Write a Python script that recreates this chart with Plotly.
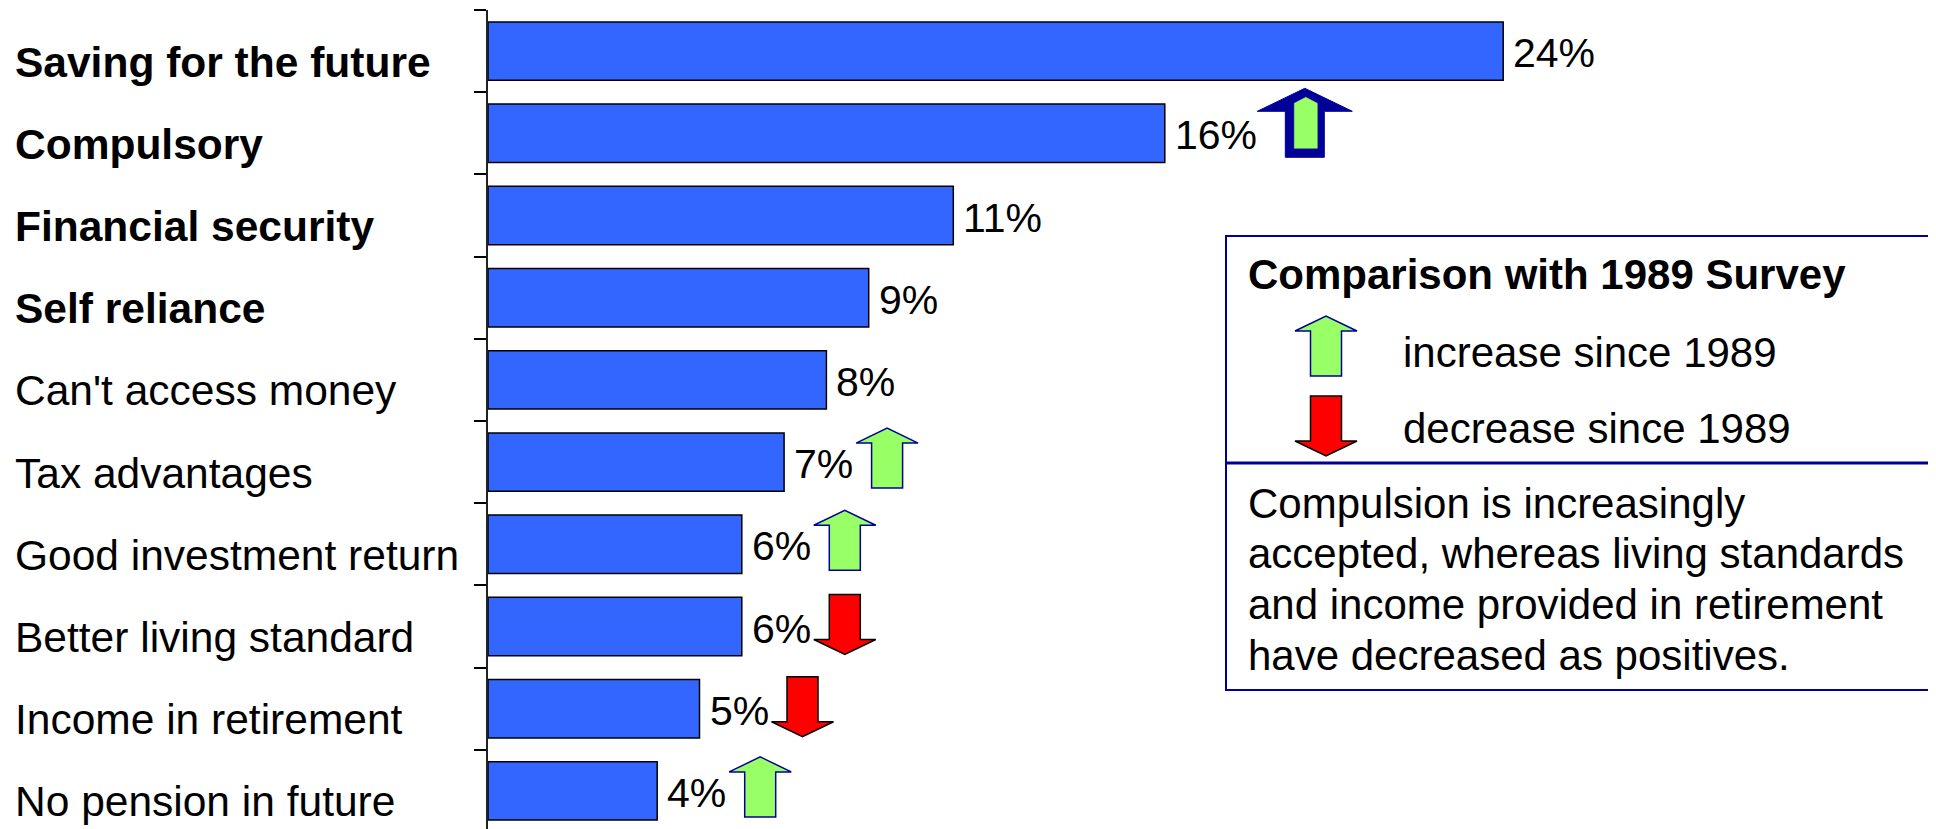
import plotly.graph_objects as go

# ---------------- data ----------------
categories = ["Saving for the future", "Compulsory", "Financial security", "Self reliance",
              "Can't access money", "Tax advantages", "Good investment return",
              "Better living standard", "Income in retirement", "No pension in future"]
percent = [24, 16, 11, 9, 8, 7, 6, 6, 5, 4]
bold_label = [True, True, True, True, False, False, False, False, False, False]
change_since_1989 = ["", "up", "", "", "", "up", "up", "down", "down", "up"]
highlighted = "Compulsory"

legend_title = "Comparison with 1989 Survey"
legend_items = ["increase since 1989", "decrease since 1989"]
note_lines = ["Compulsion is increasingly",
              "accepted, whereas living standards",
              "and income provided in retirement",
              "have decreased as positives."]

# ---------------- styling ----------------
OFF = 8                      # page body margin of the html page
W, H = 1936 - OFF, 829 - OFF
ML, MT = 488 - OFF, 10 - OFF
PW, PH = W - ML, H - MT
FONT = "Liberation Sans, Arial, sans-serif"
BAR_BLUE = "#3366FF"
GREEN = "#99FF66"
NAVY = "#000099"
RED = "#FF0000"


def px(x):
    # window pixel -> paper fraction
    return (x - OFF - ML) / PW


def py(y):
    return 1 - (y - OFF - MT) / PH


idx = list(range(len(categories)))

fig = go.Figure()
fig.add_trace(go.Bar(
    x=percent, y=idx, orientation="h", width=0.71,
    marker=dict(color=BAR_BLUE, line=dict(color="black", width=1.5)),
    hoverinfo="skip",
))

annotations = []
shapes = []

# category labels (left aligned at the left edge of the figure)
for i, (cat, b) in enumerate(zip(categories, bold_label)):
    annotations.append(dict(
        xref="paper", x=0, xanchor="left", xshift=-(ML - 5),
        yref="y", y=i, yanchor="middle", yshift=-11,
        text=f"<b>{cat}</b>" if b else cat, showarrow=False,
        font=dict(family=FONT, size=42.5, color="black"),
    ))

# value labels
for i, v in enumerate(percent):
    annotations.append(dict(
        xref="x", x=v, xanchor="left", xshift=8,
        yref="y", y=i, yanchor="middle", yshift=-2,
        text=f"{v:.0f}%", showarrow=False,
        font=dict(family=FONT, size=41, color="black"),
    ))


def up_path(hw, sw, hh, th):
    t = th / 2
    return (f"M {-sw} {-t} L {-sw} {t - hh} L {-hw} {t - hh} L 0 {t} "
            f"L {hw} {t - hh} L {sw} {t - hh} L {sw} {-t} Z")


def down_path(hw, sw, hh, th):
    t = th / 2
    return (f"M {-sw} {t} L {-sw} {-t + hh} L {-hw} {-t + hh} L 0 {-t} "
            f"L {hw} {-t + hh} L {sw} {-t + hh} L {sw} {t} Z")


def pix_shape(path, xref, xa, yref, ya, fill, line_color, lw, dx=0, dy=0):
    toks = path.split()
    out = []
    k = 0
    for t in toks:
        if t in ("M", "L", "Z"):
            out.append(t)
            k = 0
        else:
            val = float(t) + (dx if k % 2 == 0 else dy)
            out.append(f"{val:.1f}")
            k += 1
    return dict(type="path", path=" ".join(out), xref=xref, yref=yref,
                xsizemode="pixel", ysizemode="pixel", xanchor=xa, yanchor=ya,
                fillcolor=fill, line=dict(color=line_color, width=lw), layer="above")


# change markers next to bars
for i, (cat, v, ch) in enumerate(zip(categories, percent, change_since_1989)):
    if not ch:
        continue
    if cat == highlighted:
        shapes.append(pix_shape(up_path(47.5, 19.5, 23, 69), "x", v, "y", i,
                                NAVY, NAVY, 1, dx=140, dy=10.5))
        shapes.append(pix_shape(
            "M -11.5 -25.5 L -11.5 19.5 L 0 25.5 L 11.5 19.5 L 11.5 -25.5 Z",
            "x", v, "y", i, GREEN, GREEN, 0.5, dx=141, dy=10.5))
    elif ch == "up":
        shapes.append(pix_shape(up_path(31, 15.5, 15, 60), "x", v, "y", i,
                                GREEN, NAVY, 1.5, dx=103, dy=4))
    else:
        shapes.append(pix_shape(down_path(31, 15.5, 15, 60), "x", v, "y", i,
                                RED, "black", 1.5, dx=103, dy=2))

# legend box
shapes.append(dict(type="rect", xref="paper", yref="paper",
                   x0=px(1226), x1=px(1960), y0=py(690), y1=py(236),
                   line=dict(color=NAVY, width=2), fillcolor="rgba(0,0,0,0)"))
shapes.append(dict(type="line", xref="paper", yref="paper",
                   x0=px(1226), x1=px(1960), y0=py(463), y1=py(463),
                   line=dict(color=NAVY, width=3)))

annotations.append(dict(
    xref="paper", x=px(1246), xanchor="left", yref="paper", y=py(275), yanchor="middle",
    text=f"<b>{legend_title}</b>", showarrow=False,
    font=dict(family=FONT, size=42, color="black")))

item_y = [352, 429]
for txt, yy in zip(legend_items, item_y):
    annotations.append(dict(
        xref="paper", x=px(1401), xanchor="left", yref="paper", y=py(yy), yanchor="middle",
        text=txt, showarrow=False, font=dict(family=FONT, size=42, color="black")))

shapes.append(pix_shape(up_path(31, 15.5, 15, 60), "paper", px(1326), "paper", py(346),
                        GREEN, NAVY, 1.5))
shapes.append(pix_shape(down_path(31, 15.5, 15, 60), "paper", px(1326), "paper", py(426),
                        RED, "black", 1.5))

for k, line in enumerate(note_lines):
    annotations.append(dict(
        xref="paper", x=px(1246), xanchor="left", yref="paper", y=py(503 + 50.7 * k),
        yanchor="middle", text=line, showarrow=False,
        font=dict(family=FONT, size=42, color="black")))

fig.update_layout(
    width=W, height=H,
    margin=dict(l=ML, r=0, t=MT, b=0, pad=0),
    paper_bgcolor="white", plot_bgcolor="white",
    showlegend=False, hovermode=False,
    xaxis=dict(range=[0, PW / 42.3], visible=False, fixedrange=True),
    yaxis=dict(range=[-0.5 + PH / 82.2, -0.5], tickmode="array",
               tickvals=[i - 0.5 for i in range(len(categories) + 1)],
               ticks="outside", ticklen=12, tickwidth=2, tickcolor="black",
               showticklabels=False, showgrid=False, zeroline=False,
               showline=True, linecolor="#222222", linewidth=2, fixedrange=True),
    annotations=annotations, shapes=shapes,
)

fig.write_html("out.html")
